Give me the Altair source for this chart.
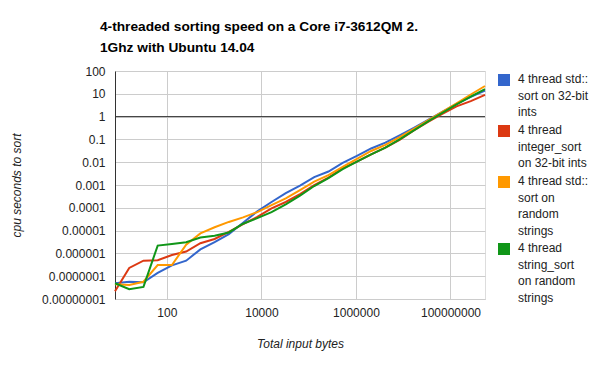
import altair as alt
import pandas as pd

total_bytes = [8, 16, 32, 64, 128, 256, 512, 1024, 2048, 4096, 8192, 16384,
               32768, 65536, 131072, 262144, 524288, 1048576, 2097152, 4194304,
               8388608, 16777216, 33554432, 67108864, 134217728, 268435456,
               536870912]

series_names = [
    "4 thread std::\nsort on 32-bit\nints",
    "4 thread\ninteger_sort\non 32-bit ints",
    "4 thread std::\nsort on\nrandom\nstrings",
    "4 thread\nstring_sort\non random\nstrings",
]
series_colors = ["#3366cc", "#dc3912", "#ff9900", "#109618"]

std_sort_ints = [4.9e-8, 5.7e-8, 5.4e-8, 1.4e-7, 3.0e-7, 4.8e-7, 1.5e-6, 3.1e-6,
                 7.0e-6, 2.2e-5, 7.0e-5, 1.8e-4, 4.4e-4, 9.5e-4, 2.2e-3, 3.9e-3,
                 9.3e-3, 1.9e-2, 4.0e-2, 7.2e-2, 0.15, 0.32, 0.72, 1.6, 3.6, 7.3, 14]
integer_sort_ints = [2.2e-8, 2.3e-7, 4.8e-7, 5.0e-7, 8.5e-7, 1.2e-6, 2.8e-6, 4.3e-6,
                     8.7e-6, 1.9e-5, 4.0e-5, 9.5e-5, 1.8e-4, 4.0e-4, 1.0e-3, 2.1e-3,
                     5.4e-3, 1.05e-2, 2.2e-2, 4.4e-2, 0.095, 0.25, 0.58, 1.3, 2.8, 4.8, 8.9]
std_sort_strings = [4.4e-8, 4.1e-8, 5.7e-8, 3.1e-7, 3.1e-7, 2.4e-6, 7.5e-6, 1.4e-5,
                    2.4e-5, 3.8e-5, 6.5e-5, 1.3e-4, 2.6e-4, 6.0e-4, 1.4e-3, 2.7e-3,
                    6.2e-3, 1.4e-2, 3.1e-2, 5.8e-2, 0.125, 0.29, 0.68, 1.6, 3.8, 9.3, 22]
string_sort_strings = [4.9e-8, 2.7e-8, 3.4e-8, 2.2e-6, 2.6e-6, 3.1e-6, 5.0e-6, 6.0e-6,
                       8.3e-6, 2.0e-5, 3.5e-5, 6.4e-5, 1.4e-4, 3.4e-4, 9.0e-4, 2.0e-3,
                       5.0e-3, 1.05e-2, 2.2e-2, 4.4e-2, 0.1, 0.25, 0.62, 1.45, 3.4, 7.6, 16]

x_ticks = [100, 10000, 1000000, 100000000]
y_ticks = [1e-8, 1e-7, 1e-6, 1e-5, 1e-4, 1e-3, 1e-2, 1e-1, 1, 10, 100]

title_lines = ["4-threaded sorting speed on a Core i7-3612QM 2.", "1Ghz with Ubuntu 14.04"]

rows = []
for name, vals in zip(series_names, [std_sort_ints, integer_sort_ints,
                                     std_sort_strings, string_sort_strings]):
    for b, v in zip(total_bytes, vals):
        rows.append({"series": name, "bytes": b, "seconds": v})
df = pd.DataFrame(rows)

FONT = "Liberation Sans"

x_enc = alt.X(
    "bytes:Q",
    scale=alt.Scale(type="log", domain=[8, 536870912], nice=False),
    axis=alt.Axis(values=x_ticks, format="d", title="Total input bytes",
                  grid=True, gridColor="#cccccc", domainColor="#cccccc",
                  ticks=False, labelPadding=8, labelFontSize=12,
                  labelColor="#222222", labelFont=FONT,
                  titleFont=FONT, titleFontSize=12, titleFontStyle="italic",
                  titleFontWeight="normal", titleColor="#222222", titlePadding=20),
)
y_enc = alt.Y(
    "seconds:Q",
    scale=alt.Scale(type="log", domain=[1e-8, 100], nice=False),
    axis=alt.Axis(values=y_ticks, format=".8~f", title="cpu seconds to sort",
                  grid=True, gridColor="#cccccc", domainColor="#333333",
                  ticks=False, labelPadding=10, labelFontSize=12,
                  labelColor="#222222", labelFont=FONT,
                  titleFont=FONT, titleFontSize=12, titleFontStyle="italic",
                  titleFontWeight="normal", titleColor="#222222", titlePadding=18),
)

lines = alt.Chart(df).mark_line(strokeWidth=2).encode(
    x=x_enc,
    y=y_enc,
    color=alt.Color(
        "series:N",
        scale=alt.Scale(domain=series_names, range=series_colors),
        legend=alt.Legend(
            title=None, orient="none", legendX=383, legendY=-3, padding=0,
            labelExpr="split(datum.label, '\\n')",
            labelBaseline="top", labelFont=FONT, labelFontSize=12,
            labelColor="#222222", labelLimit=300, labelOffset=8,
            symbolType="M-1,1H1V3H-1Z", symbolSize=36, symbolStrokeWidth=6,
            rowPadding=-4,
        ),
    ),
)

one_line = alt.Chart(pd.DataFrame({"seconds": [1]})).mark_rule(
    color="#333333", strokeWidth=1
).encode(y=alt.Y("seconds:Q"))

chart = alt.layer(one_line, lines).properties(
    width=370,
    height=228,
    autosize=alt.AutoSizeParams(type="none"),
    padding={"left": 107, "top": 63, "right": 107, "bottom": 64},
    title=alt.Title(
        text=title_lines, anchor="start", frame="group", dx=-15, offset=10,
        font=FONT, fontSize=13.7, fontWeight="bold", color="#000000", lineHeight=21.5,
    ),
).configure_view(stroke=None).configure(
    style={"guide-label": {"lineHeight": 16.6}}
)

chart.save("out.html", embed_options={"renderer": "svg", "actions": False})
